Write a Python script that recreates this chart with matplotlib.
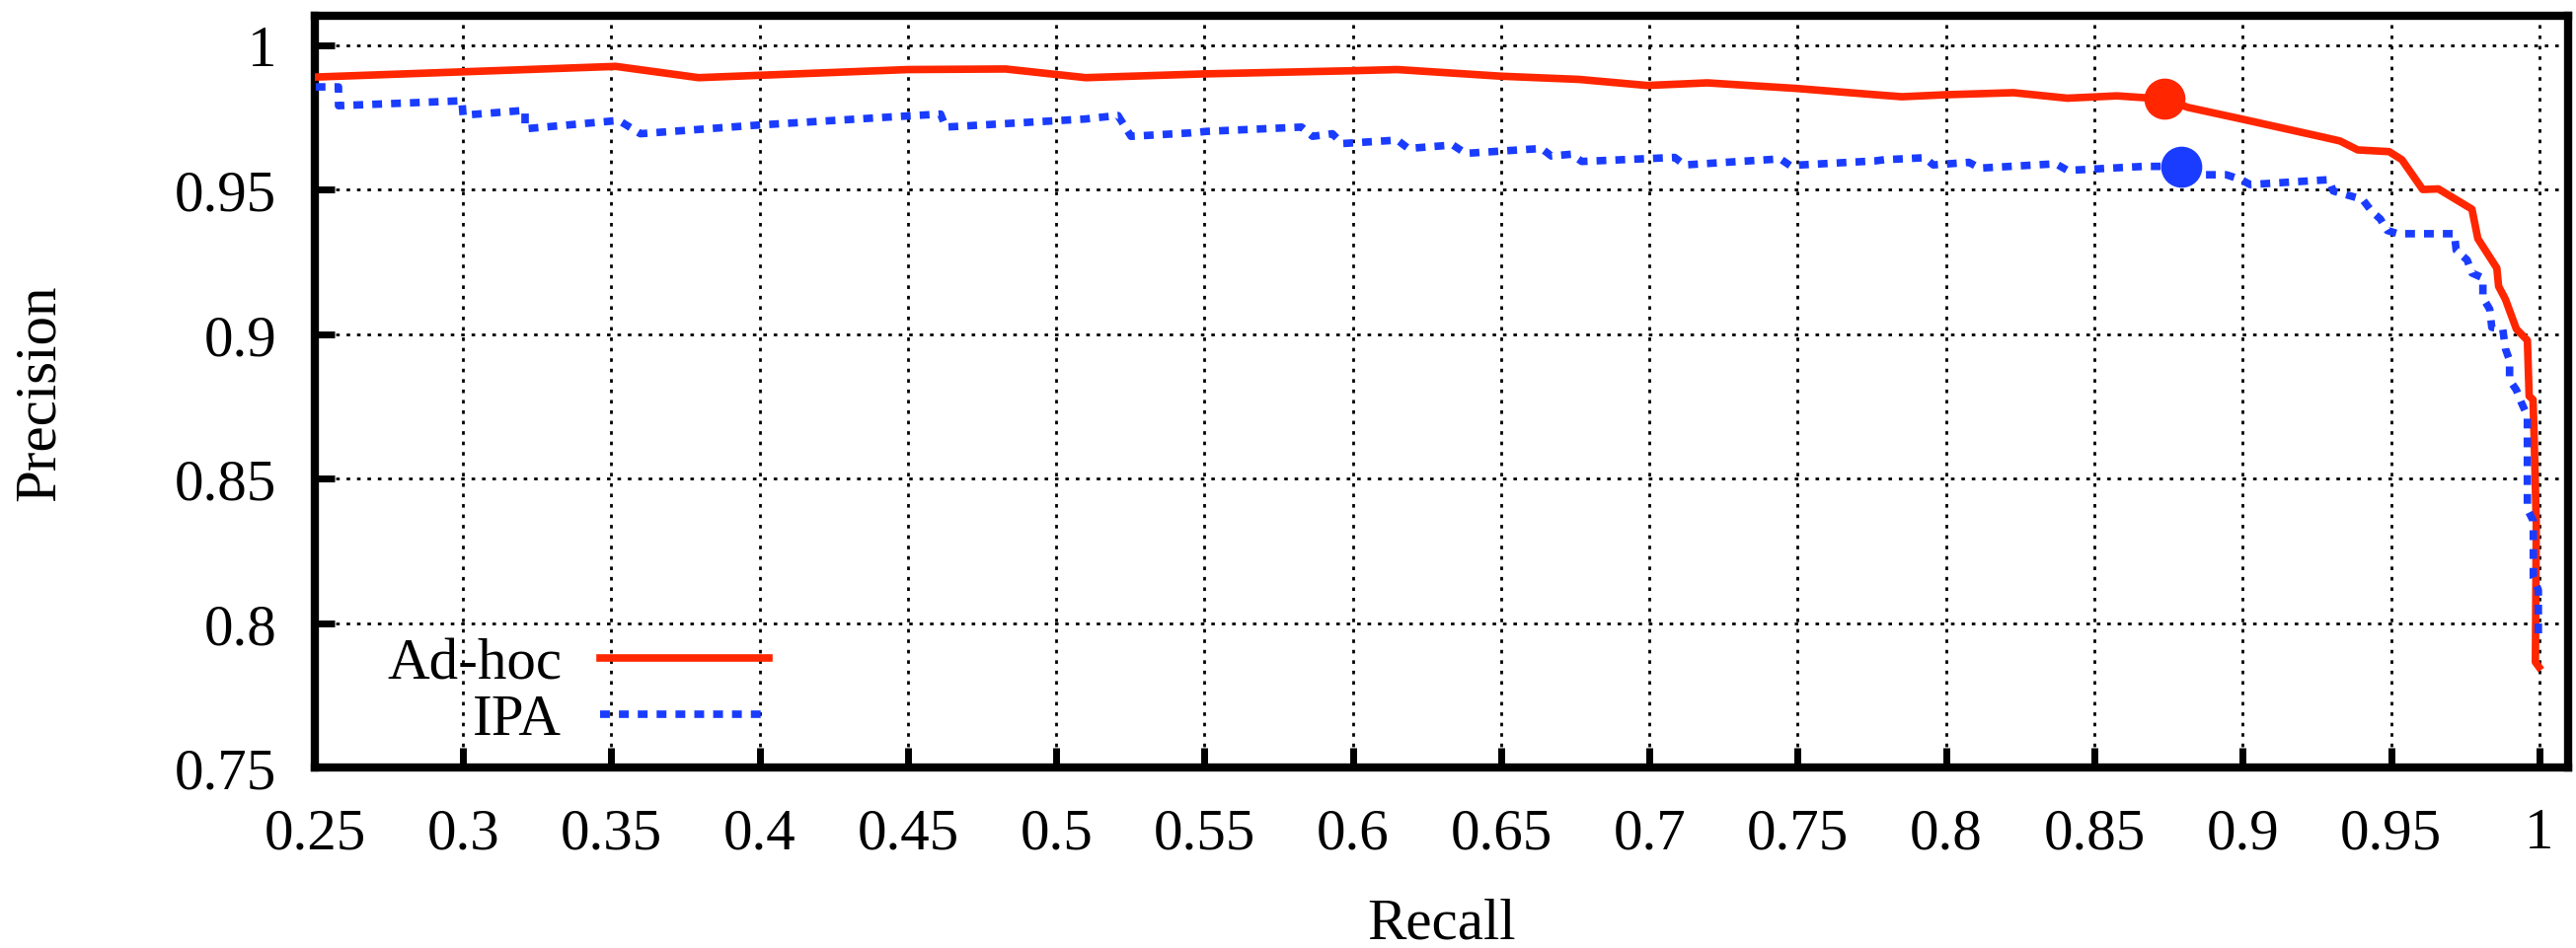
import matplotlib
matplotlib.use("Agg")
import matplotlib.pyplot as plt

# precision / recall curves
adhoc_recall = [0.25, 0.3515, 0.3794, 0.4500, 0.4829, 0.5099, 0.5498, 0.5997,
                0.615, 0.650, 0.6762, 0.6992, 0.7195, 0.7491, 0.7761, 0.7851,
                0.8001, 0.8227, 0.8409, 0.8576, 0.8737, 0.8816, 0.8996, 0.9268,
                0.9328, 0.9388, 0.9494, 0.9537, 0.9607, 0.9660, 0.9773, 0.9793,
                0.9857, 0.9863, 0.9886, 0.9923, 0.9960, 0.9966, 0.9979, 0.9983,
                0.9990, 0.9987, 0.9999]
adhoc_precision = [0.9889, 0.9926, 0.9887, 0.9915, 0.9917, 0.9887, 0.9900, 0.9911,
                   0.9915, 0.9892, 0.9881, 0.9860, 0.9869, 0.9850, 0.9828, 0.9821,
                   0.9828, 0.9835, 0.9816, 0.9824, 0.9813, 0.9784, 0.9744, 0.9682,
                   0.9668, 0.9637, 0.9631, 0.9603, 0.9500, 0.9502, 0.9432, 0.9330,
                   0.9228, 0.9165, 0.9120, 0.9017, 0.8978, 0.8785, 0.8773, 0.8637,
                   0.8342, 0.7865, 0.7848]

ipa_recall = [0.2503, 0.258, 0.258, 0.2996, 0.3, 0.3209, 0.3209, 0.3525, 0.3598,
              0.3981, 0.4490, 0.4610, 0.4627, 0.5099, 0.5132, 0.5208, 0.5252,
              0.5455, 0.5505, 0.5827, 0.5864, 0.5931, 0.5964, 0.6150, 0.6187,
              0.6337, 0.6380, 0.6636, 0.6669, 0.6736, 0.6772, 0.7085, 0.7118,
              0.7441, 0.7474, 0.7761, 0.7791, 0.7927, 0.7957, 0.8077, 0.8114,
              0.8370, 0.8410, 0.8666, 0.8792, 0.8875, 0.8945, 0.8995, 0.9025,
              0.9291, 0.9305, 0.9404, 0.9434, 0.9464, 0.9488, 0.9524, 0.9714,
              0.9720, 0.9757, 0.9773, 0.9810, 0.9810, 0.9833, 0.9840, 0.9877,
              0.9886, 0.9900, 0.9900, 0.9923, 0.9940, 0.9960, 0.9960, 0.9980,
              0.9980, 0.9997, 0.9997]
ipa_precision = [0.9855, 0.9855, 0.9790, 0.9807, 0.9757, 0.9774, 0.9710, 0.9739,
                 0.9693, 0.9722, 0.9754, 0.9761, 0.9716, 0.9744, 0.9748, 0.9756,
                 0.9684, 0.9696, 0.9701, 0.9716, 0.9684, 0.9693, 0.9659, 0.9671,
                 0.9642, 0.9654, 0.9625, 0.9642, 0.9616, 0.9622, 0.9597, 0.9611,
                 0.9585, 0.9606, 0.9583, 0.9599, 0.9603, 0.9610, 0.9585, 0.9594,
                 0.9574, 0.9589, 0.9566, 0.9580, 0.9580, 0.9551, 0.9551, 0.9534,
                 0.9517, 0.9534, 0.9495, 0.9466, 0.9426, 0.9398, 0.9358, 0.9347,
                 0.9347, 0.9290, 0.9256, 0.9211, 0.9194, 0.9125, 0.9086, 0.9023,
                 0.9017, 0.8949, 0.8909, 0.8841, 0.8806, 0.8762, 0.8717, 0.8394,
                 0.8353, 0.8158, 0.8114, 0.7954]

# highlighted operating points
adhoc_point = (0.8737, 0.9813)
ipa_point = (0.8792, 0.958)

x_ticks = [0.25, 0.3, 0.35, 0.4, 0.45, 0.5, 0.55, 0.6, 0.65, 0.7, 0.75,
           0.8, 0.85, 0.9, 0.95, 1.0]
x_labels = ["0.25", "0.3", "0.35", "0.4", "0.45", "0.5", "0.55", "0.6",
            "0.65", "0.7", "0.75", "0.8", "0.85", "0.9", "0.95", "1"]
y_ticks = [0.75, 0.8, 0.85, 0.9, 0.95, 1.0]
y_labels = ["0.75", "0.8", "0.85", "0.9", "0.95", "1"]

RED = "#ff2600"
BLUE = "#1a3cff"

plt.rcParams["font.family"] = ["Liberation Serif", "DejaVu Serif"]
FS = 42.5

fig = plt.figure(figsize=(26.1, 9.62), dpi=100)
ax = fig.add_axes([0.1222, 0.1902, 0.8747, 0.7921])

ax.plot(adhoc_recall, adhoc_precision, color=RED, lw=5.5, label="Ad-hoc",
        solid_joinstyle="round", zorder=3)
ax.plot(ipa_recall, ipa_precision, color=BLUE, lw=5.5, label="IPA",
        linestyle=(0, (1.3, 1.2)), dash_capstyle="butt", zorder=3)
ax.plot(*adhoc_point, "o", color=RED, ms=29, zorder=4)
ax.plot(*ipa_point, "o", color=BLUE, ms=29, zorder=4)

ax.set_xlim(0.25, 1.0097)
ax.set_ylim(0.75, 1.0101)
ax.set_xticks(x_ticks)
ax.set_xticklabels(x_labels)
ax.set_yticks(y_ticks)
ax.set_yticklabels(y_labels)

ax.grid(True, color="black", linestyle=(0, (1.3, 2.5)), linewidth=2)
ax.set_axisbelow(True)

for s in ax.spines.values():
    s.set_linewidth(6)
ax.tick_params(axis="both", direction="in", length=14.4, width=5,
               labelsize=FS, top=False, right=False)
ax.tick_params(axis="x", pad=29)
ax.tick_params(axis="y", pad=28)

ax.set_xlabel("Recall", fontsize=FS)
ax.set_ylabel("Precision", fontsize=FS)
ax.xaxis.set_label_coords(0.5, -0.173)
ax.yaxis.set_label_coords(-0.11, 0.5)

ax.legend(loc="lower left", bbox_to_anchor=(0.032, 0.027), frameon=False,
          markerfirst=False, fontsize=FS, handlelength=2.9,
          handletextpad=0.66, borderpad=0, borderaxespad=0,
          labelspacing=0.05)

fig.savefig("out.png", dpi=100)
